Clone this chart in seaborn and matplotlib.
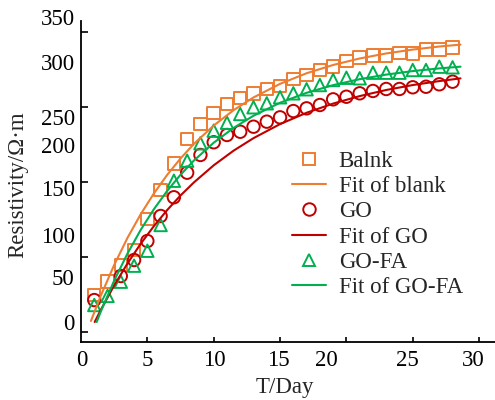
import matplotlib
matplotlib.use("Agg")
import matplotlib.pyplot as plt
import seaborn as sns
import pandas as pd
from matplotlib.lines import Line2D

# ---------------- data ----------------
days_blank = list(range(1, 29))
res_blank = [30, 44.8, 63.3, 80, 114.4, 146.7, 176.3, 203.3, 219.7, 232, 242, 249.2,
             254.1, 258.6, 262.2, 269.7, 274.4, 280, 283.7, 290, 293.7, 295.9, 295.9,
             299.2, 298.5, 303, 303, 305.2]

days_go = [1] + list(range(3, 29))
res_go = [24.4, 51.1, 68.9, 90, 117.8, 138.6, 165.9, 185.6, 199.7, 207.8, 211.4, 217,
          222.6, 227.4, 234.4, 237.4, 241.1, 247.4, 250.3, 254.1, 256.7, 258.9, 258.9,
          260.8, 261.4, 264.1, 267]

days_gofa = list(range(1, 29))
res_gofa = [18.9, 29, 44.8, 62.6, 79.2, 107.8, 157, 179.2, 198.6, 212.6, 221.4, 231.1,
            238.6, 243, 249.7, 254.1, 258.6, 263.3, 268.9, 271.4, 270.8, 277, 277, 277,
            280, 280, 283.7, 283]

fit_days_common = [1.5, 2.5, 3.5, 4.5, 5.5, 6.5, 7.5, 8.5, 10, 11.5, 13, 15, 17, 19, 21,
                   23, 25, 27, 28.6]
fit_days_blank = [0.75] + fit_days_common
fit_blank = [1.2, 29.5, 63.4, 93.4, 119.8, 143.0, 163.6, 181.7, 197.8, 218.3, 235.4,
             249.5, 264.6, 276.4, 285.6, 292.8, 298.4, 302.7, 306.1, 308.2]
fit_days_go = [1.03] + fit_days_common
fit_go = [0, 13.7, 40.7, 65.0, 87.0, 106.7, 124.5, 140.6, 155.0, 174.1, 190.4, 204.3,
          219.9, 232.5, 242.7, 251.0, 257.8, 263.3, 267.7, 270.7]
fit_days_gofa = [1.18] + fit_days_common
fit_gofa = [0, 11.9, 46.0, 76.0, 102.4, 125.5, 145.8, 163.6, 179.3, 199.2, 215.7, 229.2,
            243.6, 254.7, 263.2, 269.8, 274.9, 278.8, 281.8, 283.7]

legend_labels = ["Balnk", "Fit of blank", "GO", "Fit of GO", "GO-FA", "Fit of GO-FA"]

# tick marks and the (irregularly placed) tick labels as seen in the reference
ytick_marks = [-11.1, 72.2, 155.6, 238.9, 322.2]
ylabel_pos = [0.3, 50.3, 96.7, 148.5, 196.7, 228.1, 289.2, 339.2]
ylabel_txt = ["0", "50", "100", "150", "200", "250", "300", "350"]
xtick_marks = [5, 10, 15, 20, 25, 30]
xlabel_pos = [0.05, 4.99, 10.02, 14.87, 18.5, 24.6, 29.56]
xlabel_txt = ["0", "5", "10", "15", "20", "25", "30"]

C_ORANGE = "#ED7D31"
C_RED = "#C00000"
C_GREEN = "#00B050"

# ---------------- figure ----------------
sns.set_theme(style="white")
plt.rcParams["font.family"] = ["Liberation Serif", "DejaVu Serif"]

fig = plt.figure(figsize=(4.95, 4.0), dpi=100)
ax = fig.add_axes([81 / 495, 58 / 400, 414 / 495, (342 - 11.5) / 400])

MS = 80
sns.scatterplot(x=days_blank, y=res_blank, ax=ax, marker="s", s=MS, color=C_ORANGE,
                facecolor="none", edgecolor=C_ORANGE, linewidth=1.4, zorder=2)
sns.scatterplot(x=days_go, y=res_go, ax=ax, marker="o", s=MS, color=C_RED,
                facecolor="none", edgecolor=C_RED, linewidth=1.4, zorder=2)
sns.scatterplot(x=days_gofa, y=res_gofa, ax=ax, marker="^", s=MS, color=C_GREEN,
                facecolor="none", edgecolor=C_GREEN, linewidth=1.4, zorder=2)

sns.lineplot(x=fit_days_blank, y=fit_blank, ax=ax, color=C_ORANGE, lw=1.5,
             sort=False, estimator=None, zorder=3)
sns.lineplot(x=fit_days_go, y=fit_go, ax=ax, color=C_RED, lw=1.5,
             sort=False, estimator=None, zorder=3)
sns.lineplot(x=fit_days_gofa, y=fit_gofa, ax=ax, color=C_GREEN, lw=1.5,
             sort=False, estimator=None, zorder=3)

ax.set_xlim(0, 414 / 13.27)
ax.set_ylim(-22.2, 345)
ax.spines["left"].set_bounds(-22.2, 334.4)
for s in ["top", "right"]:
    ax.spines[s].set_visible(False)
for s in ["left", "bottom"]:
    ax.spines[s].set_color("black")
    ax.spines[s].set_linewidth(1.3)

FS = 16.5
# labels on (invisible) major ticks, tick marks on minor ticks
ax.set_yticks(ylabel_pos, labels=ylabel_txt)
ax.set_yticks(ytick_marks, minor=True)
ax.set_xticks(xlabel_pos, labels=xlabel_txt)
ax.set_xticks(xtick_marks, minor=True)
ax.tick_params(axis="y", which="major", length=0, pad=4.5, labelsize=FS, colors="black")
ax.tick_params(axis="x", which="major", length=0, pad=6, labelsize=FS, colors="black")
ax.tick_params(which="minor", direction="in", width=1.2, color="black")
ax.tick_params(axis="y", which="minor", length=5, left=True)
ax.tick_params(axis="x", which="minor", length=3.8, bottom=True)
for lab in ax.get_yticklabels():
    lab.set_clip_on(False)

ax.set_xlabel("")
ax.set_ylabel("")
fig.text(285 / 495, 1 - 388 / 400, "T/Day", ha="center", va="center", fontsize=FS)
fig.text(18 / 495, 1 - 185 / 400, "Resistivity/Ω·m", ha="center", va="center",
         rotation=90, fontsize=FS)

handles = [
    Line2D([], [], ls="none", marker="s", ms=9, mfc="none", mec=C_ORANGE, mew=1.4),
    Line2D([], [], color=C_ORANGE, lw=1.5),
    Line2D([], [], ls="none", marker="o", ms=9, mfc="none", mec=C_RED, mew=1.4),
    Line2D([], [], color=C_RED, lw=1.5),
    Line2D([], [], ls="none", marker="^", ms=9, mfc="none", mec=C_GREEN, mew=1.4),
    Line2D([], [], color=C_GREEN, lw=1.5),
]
ax.legend(handles, legend_labels, frameon=False, fontsize=FS, loc="upper left",
          bbox_to_anchor=(291.7 / 495, 1 - 151 / 400), bbox_transform=fig.transFigure,
          borderaxespad=0, borderpad=0, handlelength=1.5, handletextpad=0.55,
          labelspacing=0.18)

fig.savefig("out.png", dpi=100)
